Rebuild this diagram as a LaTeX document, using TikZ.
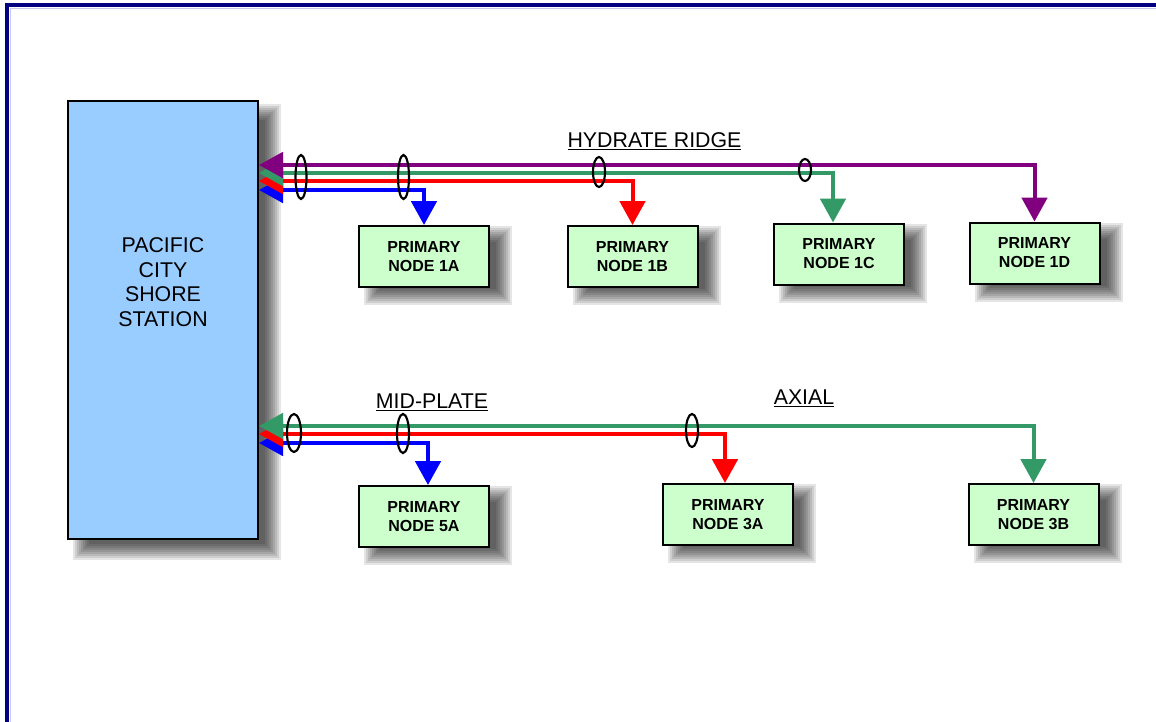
\documentclass[tikz,border=0pt]{standalone}
\usepackage{fontspec}
\setmainfont{Liberation Sans}
\usetikzlibrary{arrows.meta,shapes.geometric,backgrounds,calc}
\definecolor{navyb}{HTML}{000080}
\definecolor{lavb}{HTML}{C8C8F0}
\definecolor{cpurple}{HTML}{800080}
\definecolor{cgreen}{HTML}{339966}
\definecolor{cred}{HTML}{FF0000}
\definecolor{cblue}{HTML}{0000FF}
\definecolor{stfill}{HTML}{99CCFF}
\definecolor{pnfill}{HTML}{CCFFCC}
\newcommand\softshade[3]{%
  \foreach \d in {-8,-6,...,8}
    \fill[black,opacity=.1] ($(#1.south west)+(#2-\d,#3+\d)$) rectangle ($(#1.north east)+(#2+\d,#3-\d)$);
}
\begin{document}
\begin{tikzpicture}[x=0.75pt,y=-0.75pt,
  pnode/.style={draw=black,line width=1.5pt,fill=pnfill,minimum width=97.5pt,minimum height=45.75pt,
    font=\bfseries\fontsize{12}{14.25}\selectfont,align=center,inner sep=0pt},
  station/.style={draw=black,line width=1.5pt,fill=stfill,minimum width=142.5pt,minimum height=328.5pt,inner sep=0pt},
  sttext/.style={font=\fontsize{16}{18.4}\selectfont,align=center,inner sep=0pt},
  lbl/.style={font=\fontsize{16}{19}\selectfont,inner sep=0pt},
  cable/.style={line width=3pt,{Triangle[length=18pt,width=19pt]}-{Triangle[length=18pt,width=19pt]}},
  bundle/.style={ellipse,draw=black,line width=1.6pt,inner sep=0pt}
]
\useasboundingbox (0,0) rectangle (1156,721);
% frame
\draw[lavb,line width=0.75pt] (10,722) -- (10,8) -- (1157,8);
\draw[navyb,line width=3pt] (7,722) -- (7,5) -- (1157,5);

% station and nodes
\node[station] (st) at (163,320) {};
\node[sttext] (stlabel) at (163,282) {PACIFIC\\CITY\\SHORE\\STATION};
\node[pnode] (n1a) at (424,256.5) {PRIMARY\\NODE 1A};
\node[pnode] (n1b) at (632.5,256.5) {PRIMARY\\NODE 1B};
\node[pnode] (n1c) at (839,254) {PRIMARY\\NODE 1C};
\node[pnode] (n1d) at (1034.5,253) {PRIMARY\\NODE 1D};
\node[pnode] (n5a) at (424,516.5) {PRIMARY\\NODE 5A};
\node[pnode] (n3a) at (728,514.5) {PRIMARY\\NODE 3A};
\node[pnode] (n3b) at (1033.5,514.5) {PRIMARY\\NODE 3B};

\begin{scope}[on background layer]
  \softshade{st}{14}{12}
  \softshade{n1a}{14}{9}
  \softshade{n1b}{14}{9}
  \softshade{n1c}{14}{9}
  \softshade{n1d}{14}{9}
  \softshade{n5a}{14}{9}
  \softshade{n3a}{14}{9}
  \softshade{n3b}{14}{9}
\end{scope}

% labels
\node[lbl,anchor=base] (hr) at (654.5,147) {\underline{HYDRATE RIDGE}};
\node[lbl,anchor=base] (mp) at (432,408) {\underline{MID-PLATE}};
\node[lbl,anchor=base] (ax) at (804,404) {\underline{AXIAL}};

% hydrate ridge cables
\draw[cable,cblue] ($(st.north east)+(0,90)$) -| (n1a.north);
\draw[cable,cred] ($(st.north east)+(0,81)$) -| (n1b.north);
\draw[cable,cgreen] ($(st.north east)+(0,73)$) -| ($(n1c.north)+(-6,0)$);
\draw[cable,cpurple] ($(st.north east)+(0,65)$) -| (n1d.north);

% mid-plate / axial cables
\draw[cable,cblue] ($(st.north east)+(0,343)$) -| ($(n5a.north)+(4,0)$);
\draw[cable,cred] ($(st.north east)+(0,334)$) -| ($(n3a.north)+(-3,0)$);
\draw[cable,cgreen] ($(st.north east)+(0,326)$) -| (n3b.north);

% bundle markers
\node[bundle,minimum width=8.25pt,minimum height=33pt] (e1) at (301,177) {};
\node[bundle,minimum width=8.25pt,minimum height=33pt] (e2) at (403.5,177) {};
\node[bundle,minimum width=9pt,minimum height=22.5pt] (e3) at (599,172) {};
\node[bundle,minimum width=9pt,minimum height=16.5pt] (e4) at (805,170) {};
\node[bundle,minimum width=10.5pt,minimum height=28.5pt] (e5) at (294,433) {};
\node[bundle,minimum width=9pt,minimum height=29.25pt] (e6) at (403,433.5) {};
\node[bundle,minimum width=9pt,minimum height=24.75pt] (e7) at (692,430.5) {};
\end{tikzpicture}
\end{document}
